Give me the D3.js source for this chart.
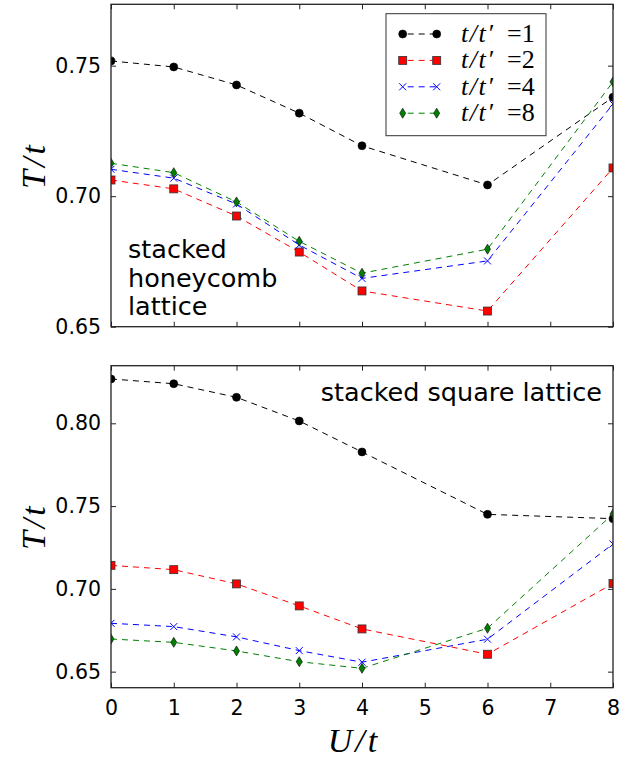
<!DOCTYPE html>
<html>
<head>
<meta charset="utf-8">
<script src="https://cdn.jsdelivr.net/npm/d3@7"></script>
<style>
  body { margin: 0; background: #fff; }
</style>
</head>
<body>
<script>
// U/t values (x axis)
var uVals = [0, 1, 2, 3, 4, 6, 8];
// t/t' ratios for the legend
var ratios = [1, 2, 4, 8];

// stacked honeycomb lattice, T/t
var honeycomb1 = [0.7518, 0.7495, 0.7426, 0.7318, 0.7193, 0.7043, 0.7379];
var honeycomb2 = [0.7062, 0.7028, 0.6924, 0.6786, 0.6637, 0.6560, 0.7108];
var honeycomb4 = [0.7103, 0.7069, 0.6970, 0.6813, 0.6685, 0.6752, 0.7353];
var honeycomb8 = [0.7126, 0.7090, 0.6978, 0.6827, 0.6705, 0.6797, 0.7438];

// stacked square lattice, T/t
var square1 = [0.8268, 0.8239, 0.8157, 0.8014, 0.7827, 0.7450, 0.7424];
var square2 = [0.7142, 0.7116, 0.7030, 0.6897, 0.6758, 0.6605, 0.7032];
var square4 = [0.6792, 0.6772, 0.6710, 0.6627, 0.6557, 0.6696, 0.7271];
var square8 = [0.6697, 0.6677, 0.6625, 0.6560, 0.6520, 0.6762, 0.7452];

var xTicks = [0, 1, 2, 3, 4, 5, 6, 7, 8];
var topYTicks = [0.65, 0.70, 0.75];
var bottomYTicks = [0.65, 0.70, 0.75, 0.80];

// look of each series (same order as ratios)
var colors = ["#000000", "#ff0000", "#0000ff", "#008000"];
var markers = ["circle", "square", "cross", "diamond"];

var svg = d3.select("body").append("svg")
    .attr("width", 640)
    .attr("height", 762);

var left = 111, right = 613;
var x = d3.scaleLinear().domain([0, 8]).range([left, right]);

// draws one marker of a given kind into group g at (px, py)
function drawMarker(g, kind, px, py, color) {
  if (kind == "circle") {
    g.append("circle").attr("cx", px).attr("cy", py).attr("r", 4)
      .attr("fill", color).attr("stroke", "#000").attr("stroke-width", 0.6);
  } else if (kind == "square") {
    g.append("rect").attr("x", px - 4).attr("y", py - 4).attr("width", 8).attr("height", 8)
      .attr("fill", color).attr("stroke", "#333").attr("stroke-width", 0.8);
  } else if (kind == "cross") {
    g.append("path")
      .attr("d", "M" + (px - 3.5) + "," + (py - 3.5) + "L" + (px + 3.5) + "," + (py + 3.5) +
                 "M" + (px - 3.5) + "," + (py + 3.5) + "L" + (px + 3.5) + "," + (py - 3.5))
      .attr("stroke", color).attr("stroke-width", 1).attr("fill", "none");
  } else {
    g.append("path")
      .attr("d", "M" + px + "," + (py - 5) + "L" + (px + 3) + "," + py + "L" + px + "," + (py + 5) +
                 "L" + (px - 3) + "," + py + "Z")
      .attr("fill", color).attr("stroke", "#000").attr("stroke-width", 0.6);
  }
}

// tick label / tick line look
function styleAxis(a) {
  a.select(".domain").remove();
  a.attr("font-family", null).attr("font-size", null);
  a.selectAll(".tick line").attr("stroke", "#222");
  a.selectAll(".tick text")
    .style("font-family", "'DejaVu Sans', sans-serif")
    .style("font-size", "20.5px")
    .attr("fill", "#000");
}

function drawPanel(id, top, bottom, domain, yTicks, series, showXLabels) {
  var y = d3.scaleLinear().domain(domain).range([bottom, top]);
  var g = svg.append("g");

  g.append("clipPath").attr("id", "clip" + id)
    .append("rect").attr("x", left).attr("y", top)
    .attr("width", right - left).attr("height", bottom - top);

  var plot = g.append("g").attr("clip-path", "url(#clip" + id + ")");
  var line = d3.line().x(function(d, i) { return x(uVals[i]); }).y(function(d) { return y(d); });

  series.forEach(function(vals, k) {
    plot.append("path")
      .attr("d", line(vals))
      .attr("fill", "none")
      .attr("stroke", colors[k])
      .attr("stroke-width", 1)
      .attr("stroke-dasharray", "6,5");
  });
  series.forEach(function(vals, k) {
    var mg = plot.append("g");
    vals.forEach(function(v, i) { drawMarker(mg, markers[k], x(uVals[i]), y(v), colors[k]); });
  });

  // axes, ticks pointing inwards on all four sides
  g.append("g").attr("transform", "translate(" + left + ",0)")
    .call(d3.axisLeft(y).tickValues(yTicks).tickSize(-5).tickPadding(10).tickFormat(d3.format(".2f")))
    .call(styleAxis);
  g.append("g").attr("transform", "translate(" + right + ",0)")
    .call(d3.axisRight(y).tickValues(yTicks).tickSize(-5).tickFormat(""))
    .call(styleAxis);
  g.append("g").attr("transform", "translate(0," + top + ")")
    .call(d3.axisTop(x).tickValues(xTicks).tickSize(-5).tickFormat(""))
    .call(styleAxis);
  g.append("g").attr("transform", "translate(0," + bottom + ")")
    .call(d3.axisBottom(x).tickValues(xTicks).tickSize(-5).tickPadding(13)
      .tickFormat(showXLabels ? d3.format("d") : ""))
    .call(styleAxis);

  g.append("rect").attr("x", left).attr("y", top)
    .attr("width", right - left).attr("height", bottom - top)
    .attr("fill", "none").attr("stroke", "#222").attr("stroke-width", 1.3);

  // y label
  g.append("text")
    .attr("transform", "translate(45," + ((top + bottom) / 2) + ") rotate(-90)")
    .attr("text-anchor", "middle")
    .style("font-family", "'Liberation Serif', serif")
    .style("font-style", "italic")
    .style("font-size", "34px")
    .style("letter-spacing", "3px")
    .text("T/t");
  return g;
}

var topPanel = drawPanel("a", 4.3, 326.7, [0.65, 0.7735], topYTicks,
  [honeycomb1, honeycomb2, honeycomb4, honeycomb8], false);
var bottomPanel = drawPanel("b", 365.7, 687.7, [0.6403, 0.8348], bottomYTicks,
  [square1, square2, square4, square8], true);

// panel annotations
var annot = topPanel.append("text")
  .style("font-family", "'DejaVu Sans', sans-serif")
  .style("font-size", "25.5px");
["stacked", "honeycomb", "lattice"].forEach(function(s, i) {
  annot.append("tspan").attr("x", 128).attr("y", 258 + i * 28.5).text(s);
});
bottomPanel.append("text")
  .attr("x", 602).attr("y", 401)
  .attr("text-anchor", "end")
  .style("font-family", "'DejaVu Sans', sans-serif")
  .style("font-size", "25.5px")
  .text("stacked square lattice");

// x label
svg.append("text")
  .attr("x", 354).attr("y", 752)
  .attr("text-anchor", "middle")
  .style("font-family", "'Liberation Serif', serif")
  .style("font-style", "italic")
  .style("font-size", "34px")
  .style("letter-spacing", "3px")
  .text("U/t");

// legend
var legend = topPanel.append("g");
legend.append("rect").attr("x", 386).attr("y", 13.7).attr("width", 160).attr("height", 122)
  .attr("fill", "#fff").attr("stroke", "#333").attr("stroke-width", 1);
ratios.forEach(function(r, k) {
  var ly = 34 + k * 26.4;
  legend.append("line").attr("x1", 402.7).attr("x2", 436.7).attr("y1", ly).attr("y2", ly)
    .attr("stroke", colors[k]).attr("stroke-width", 1).attr("stroke-dasharray", "6,5")
    .attr("stroke-dashoffset", -5);
  drawMarker(legend, markers[k], 402.7, ly, colors[k]);
  drawMarker(legend, markers[k], 436.7, ly, colors[k]);
  var t = legend.append("text").attr("x", 461).attr("y", ly + 8)
    .style("font-family", "'Liberation Serif', serif")
    .style("font-size", "26px");
  t.append("tspan").style("font-style", "italic").style("letter-spacing", "1.5px").text("t/t\u2032");
  t.append("tspan").attr("x", 507).text("=" + r);
});
</script>
</body>
</html>
